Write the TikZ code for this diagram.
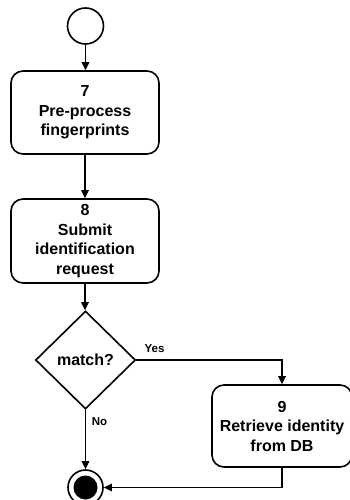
\documentclass[tikz,border=0pt]{standalone}
\usepackage{fontspec}
\setmainfont{Liberation Sans}
\usetikzlibrary{shapes.geometric,arrows.meta}
\begin{document}
\begin{tikzpicture}[x=1pt,y=-1pt,
  every node/.style={inner sep=0pt},
  stepbox/.style={draw, line width=1.6pt, rounded corners=12pt,
    minimum width=148pt, minimum height=83pt, align=center,
    font=\bfseries\fontsize{16}{19.5}\selectfont},
  decision/.style={draw, diamond, line width=1.6pt, minimum width=100pt,
    minimum height=98pt, font=\bfseries\fontsize{16}{19.5}\selectfont},
  startstate/.style={draw, circle, line width=1.6pt, minimum size=36pt},
  endstate/.style={draw, circle, line width=1.6pt, minimum size=35pt},
  guard/.style={font=\bfseries\fontsize{11.5}{13}\selectfont},
  flow/.style={line width=1.6pt, -{Triangle[length=8pt,width=7.5pt]}}]
\useasboundingbox (0,0) rectangle (350,500);

\node[startstate] (start) at (85.5,26) {};
\node[stepbox] (b7) at (85,112.5) {7\\Pre-process\\fingerprints};
\node[stepbox, minimum height=84pt] (b8) at (85,241) {8\\Submit\\identification\\request};
\node[decision] (dec) at (85.5,360) {match?};
\node[stepbox, minimum width=140pt, minimum height=82pt] (b9) at (282,426) {9\\Retrieve identity\\from DB};
\node[endstate] (end) at (85.5,487.5) {};
\fill (end.center) circle (12pt);

\draw[flow] (start.south) -- (start.south |- b7.north);
\draw[flow] (b7.south) -- (b7.south |- b8.north);
\draw[flow] (b8.south) -- (b8.south |- dec.north);
\draw[flow] (dec.east) -| (b9.north);
\draw[flow] (dec.south) -- (end.north);
\draw[flow] (b9.south) |- (end.east);

\node[guard] (yes) at (154.5,349) {Yes};
\node[guard] (no) at (99.5,422) {No};
\end{tikzpicture}
\end{document}
